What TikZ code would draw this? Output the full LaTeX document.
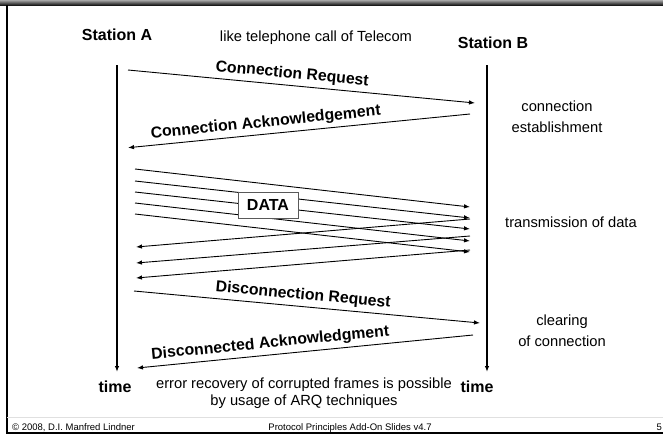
\documentclass[tikz,border=0pt]{standalone}
\usepackage{fontspec}
\setmainfont{Liberation Sans}
\usetikzlibrary{arrows.meta}
\tikzset{
        % station names and time marks
        station/.style={font=\fontsize{16}{19}\selectfont\bfseries, inner sep=0pt, anchor=base},
        % plain notes beside the time lines
        note/.style={font=\fontsize{14.7}{21}\selectfont, align=center, inner sep=0pt},
        % time lines of the two stations
        timeline/.style={line width=1.2pt, ->},
        % frames from A to B
        frame_fwd/.style={line width=0.9pt, ->},
        % frames from B to A (drawn left to right)
        frame_back/.style={line width=0.9pt, <-},
        % labels on frames
        frame_label/.style={font=\fontsize{15.8}{18}\selectfont\bfseries, sloped, above, inner sep=3.5pt},
        % data box
        data_box/.style={draw=black!65, fill=white, line width=0.7pt, font=\fontsize{16}{18}\selectfont\bfseries, minimum width=60pt, minimum height=26pt, inner sep=0pt},
        % slide footer
        footer/.style={font=\fontsize{9.5}{11}\selectfont, inner sep=0pt, anchor=base}
}

\begin{document}
\begin{tikzpicture}[
            x=1pt, y=-1pt,
            >={Latex[length=6pt,width=4.5pt]}
        ]
            \useasboundingbox (0,0) rectangle (663,434);
            % slide frame
            \shade[top color=black!35, bottom color=black!90] (0,0) rectangle (663,5);
            \draw[line width=1.5pt] (7,5) -- (7,433);
            \draw[line width=1.2pt] (6.3,433) -- (663,433);
            \draw[black!12, line width=0.6pt] (7,417.3) -- (663,417.3);

            % stations
            \node[station] (staA) at (117,40) {Station A};
            \node[station] (staB) at (493,48) {Station B};
            \node[note, anchor=base] (call) at (316,41) {like telephone call of Telecom};

            \coordinate (atop) at (117,65);
            \coordinate (abot) at (117,372);
            \coordinate (btop) at (487,65);
            \coordinate (bbot) at (487,372);
            \draw[timeline] (atop) -- (abot);
            \draw[timeline] (btop) -- (bbot);

            % connection establishment
            \coordinate (cr1) at (128,70);
            \coordinate (cr2) at (475,103);
            \coordinate (ca1) at (470,114);
            \coordinate (ca2) at (128,147.7);
            \draw[frame_fwd] (cr1) -- node[frame_label, pos=0.47] (crl) {Connection Request} (cr2);
            \draw[frame_back] (ca2) -- node[frame_label, pos=0.406] (cal) {Connection Acknowledgement} (ca1);

            % data transfer
            \foreach \i/\ya/\yb in {1/169/207, 2/181/218, 3/192/229, 4/203/241, 5/214/252} {
                \coordinate (ds\i) at (135,\ya);
                \coordinate (de\i) at (470,\yb);
                \draw[frame_fwd] (ds\i) -- (de\i);
            }
            \foreach \i/\ya/\yb in {1/219/247, 2/236/263, 3/250/278} {
                \coordinate (bs\i) at (470,\ya);
                \coordinate (be\i) at (136,\yb);
                \draw[frame_back] (be\i) -- (bs\i);
            }
            \node[data_box] (data) at (268,205) {DATA};

            % clearing
            \coordinate (dr1) at (134,291);
            \coordinate (dr2) at (480,323);
            \coordinate (da1) at (473,335);
            \coordinate (da2) at (137,368);
            \draw[frame_fwd] (dr1) -- node[frame_label, pos=0.486] (drl) {Disconnection Request} (dr2);
            \draw[frame_back] (da2) -- node[frame_label, pos=0.40] (dal) {Disconnected Acknowledgment} (da1);

            % notes
            \node[note] (est) at (557,117) {connection\\establishment};
            \node[note] (trans) at (571,222.5) {transmission of data};
            \node[note] (clear) at (562,331) {clearing\\of connection};
            \node[station] (timeA) at (115,392) {time};
            \node[station] (timeB) at (477,392) {time};
            \node[note, font=\fontsize{14.7}{17}\selectfont] (arq) at (304,393) {error recovery of corrupted frames is possible\\by usage of ARQ techniques};

            % footer
            \node[footer, anchor=base west] (copy) at (12,430.5) {\textcopyright{} 2008, D.I. Manfred Lindner};
            \node[footer] (title) at (350,430.5) {Protocol Principles Add-On Slides v4.7};
            \node[footer, anchor=base east] (page) at (662,430.5) {5};
        \end{tikzpicture}
\end{document}
